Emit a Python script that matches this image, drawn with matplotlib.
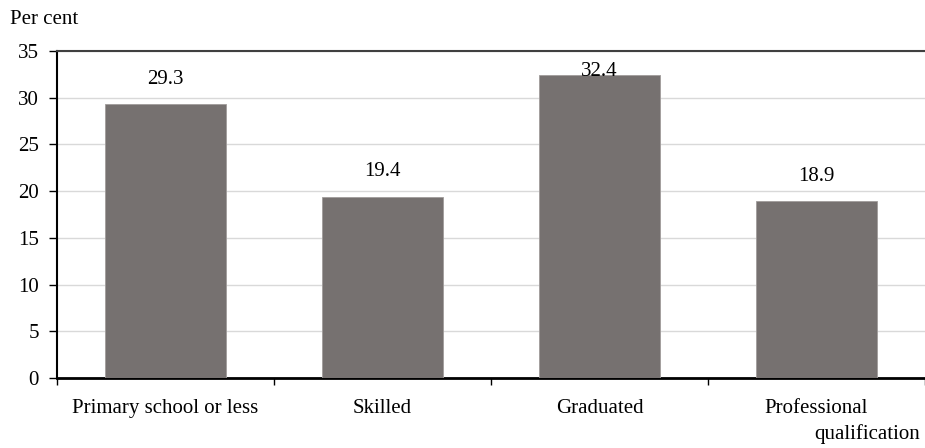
import matplotlib.pyplot as plt
import numpy as np

plt.rcParams['font.family'] = ['Liberation Serif', 'DejaVu Serif']

# Share of respondents by education level
categories = ["Primary school or less", "Skilled", "Graduated", "Professional"]
values = [29.3, 19.4, 32.4, 18.9]
y_ticks = [0, 5, 10, 15, 20, 25, 30, 35]

FS = 15

fig = plt.figure(figsize=(9.25, 4.48), dpi=100)
ax = fig.add_axes([0.0617, 0.1563, 0.9383, 0.7299])

x = np.arange(len(categories))
ax.bar(x, values, width=0.555, color='#767170', edgecolor='#a09c9b', linewidth=0.6, zorder=3)

# value labels (Excel keeps them inside the plot area)
for xi, v in zip(x, values):
    ax.text(xi, min(v + 2.7, 32.8), f"{v:.1f}", ha='center', va='center', fontsize=FS, zorder=4)

ax.set_xlim(-0.5, len(categories) - 0.5)
ax.set_ylim(0, 35)
ax.set_yticks(y_ticks)
ax.tick_params(axis='y', labelsize=FS, length=6, width=1, direction='out', pad=7)
ax.yaxis.grid(True, color='#d9d9d9', linewidth=1, zorder=0)

# category boundaries as x ticks, labels at the centres
ax.set_xticks(np.arange(len(categories) + 1) - 0.5)
ax.set_xticklabels([])
ax.set_xticks(x, minor=True)
ax.set_xticklabels(categories, minor=True, fontsize=FS)
ax.tick_params(axis='x', which='major', length=5, width=1, direction='out')
ax.tick_params(axis='x', which='minor', length=0, pad=15)
ax.text(3.475, -6.0, "qualification", ha='right', va='center', fontsize=FS, clip_on=False)

ax.spines['right'].set_visible(False)
ax.spines['top'].set_color('#404040')
ax.spines['top'].set_linewidth(1.5)
ax.spines['left'].set_linewidth(1.5)
ax.spines['bottom'].set_linewidth(2)

fig.text(10 / 925, 1 - 20 / 448, "Per cent", ha='left', va='center', fontsize=FS)

fig.savefig('out.png', dpi=100)
